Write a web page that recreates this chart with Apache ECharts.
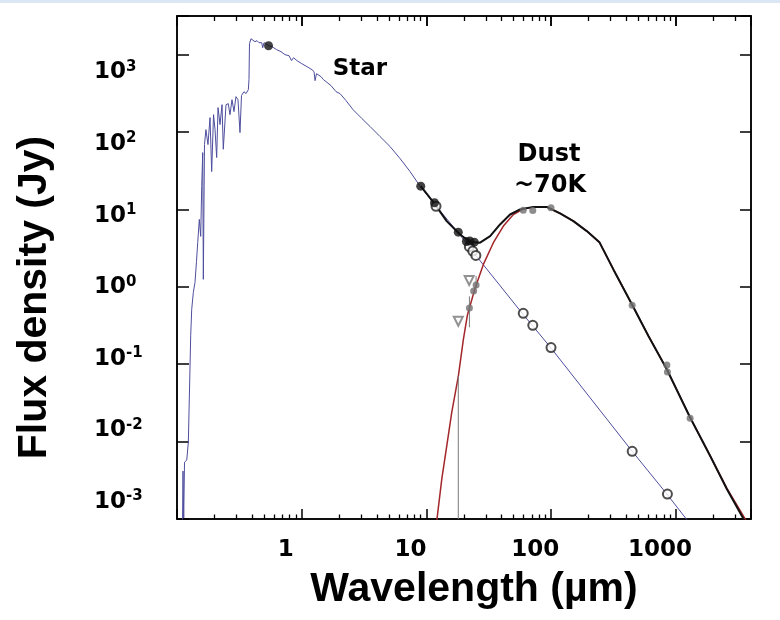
<!DOCTYPE html>
<html>
<head>
<meta charset="utf-8">
<script src="https://cdn.jsdelivr.net/npm/echarts@6/dist/echarts.min.js"></script>
<style>
  html, body { margin: 0; padding: 0; background: #ffffff; }
  #chart { width: 780px; height: 620px; }
  #topband { position: absolute; left: 0; top: 0; width: 780px; height: 3px; background: #dce7f5; z-index: 2; }
</style>
</head>
<body>
<div id="topband"></div>
<div id="chart"></div>
<script>
// Stellar photosphere model spectrum: wavelength (µm) and flux density (Jy)
const starWavelength = [
  0.1107, 0.1117, 0.1132, 0.1149, 0.1197, 0.1233, 0.1288, 0.1312, 0.1352, 0.1394,
  0.1433, 0.1466, 0.1510, 0.1549, 0.1578, 0.1608, 0.1626, 0.1661, 0.1706, 0.1771,
  0.1840, 0.1897, 0.1963, 0.2018, 0.2080, 0.2133, 0.2213, 0.2296, 0.2350, 0.2471,
  0.2577, 0.2660, 0.2760, 0.2863, 0.2971, 0.3083, 0.3199, 0.3289, 0.3443, 0.3574,
  0.3732, 0.3777, 0.3812, 0.3919, 0.4066, 0.4218, 0.4380, 0.4545, 0.4779, 0.4866,
  0.4989, 0.5420, 0.5779, 0.6304, 0.6826, 0.7345, 0.7909, 0.8286, 0.8592, 0.9164,
  1.0, 1.103, 1.209, 1.255, 1.279, 1.314, 1.428, 1.496, 1.566, 1.718,
  1.884, 2.028, 2.266, 2.578, 3.045, 3.530, 4.246, 5.107, 6.143, 7.387,
  8.886, 11.36, 17.92, 24.5, 59.5, 71.6, 100, 445, 835, 1230
];
const starFlux = [
  0.00086, 0.00416, 0.00103, 0.00543, 0.00577, 0.00986, 0.237, 0.513, 0.849, 1.14,
  2.13, 3.75, 7.43, 4.49, 19.8, 54.3, 1.25, 69.0, 107.6, 69.0,
  153.8, 30.9, 168, 107.6, 46.9, 207, 125, 226, 60, 226,
  233, 168, 262, 184, 287, 262, 98.6, 296, 333, 314,
  353, 475, 1387, 1607, 1563, 1472, 1517, 1429, 1429, 1231,
  1429, 1306, 1268, 1161, 1094, 1000, 970, 837, 915, 837,
  766, 700, 640, 604, 462, 569, 520, 475, 449, 398,
  333, 314, 255, 195, 149, 118, 87.5, 65.0, 45.5, 30.9,
  20.0, 12.2, 5.05, 2.63, 0.441, 0.309, 0.161, 0.00753, 0.00216, 0.00097
];

// Cold dust modified blackbody (~70 K)
const dustWavelength = [
  12.1, 13.27, 14.55, 15.95, 18.03, 19.77, 21.28, 24.53, 28.60, 34.40,
  41.38, 49.77, 59.84, 76.64, 92.2, 117.9, 150.7, 193.0, 243.5, 315.3,
  448, 602, 845, 1300, 1880, 2559, 3540, 3650
];
const dustFlux = [
  0.00095, 0.00328, 0.00883, 0.0238, 0.0706, 0.210, 0.429, 0.957, 1.95, 3.72,
  6.10, 8.61, 10.2, 10.8, 10.7, 8.88, 7.06, 5.25, 3.78, 1.68,
  0.577, 0.232, 0.0861, 0.0205, 0.00656, 0.00250, 0.00104, 0.00094
];

// Star + dust total
const totalWavelength = [
  9.0, 11.6, 14.52, 18.6, 22.4, 26.9, 32.4, 38.9, 46.8, 56.3,
  72.0, 92.2, 117.9, 150.7, 193.0, 243.5, 315.3, 448, 602, 845,
  1300, 1880, 2559, 3443, 3550
];
const totalFlux = [
  20.0, 11.9, 7.06, 4.75, 3.79, 3.72, 4.52, 6.40, 8.61, 10.0,
  10.8, 10.8, 8.88, 7.06, 5.25, 3.78, 1.68, 0.577, 0.232, 0.0861,
  0.0205, 0.00656, 0.00244, 0.00104, 0.00092
];

// Photometry
const starPhotometry = [[0.542, 1306], [9.0, 20.0], [11.6, 12.2], [18.0, 5.09], [20.9, 3.85], [22.3, 3.90], [24.2, 3.78]];
const photosphereModel = [[11.93, 11.0], [22.08, 3.30], [23.5, 2.90], [24.9, 2.55], [59.7, 0.455], [71.2, 0.318], [99.7, 0.164], [446, 0.0075], [855, 0.0021]];
const dustPhotometry = [[22.1, 0.532], [23.9, 0.883], [25.0, 1.055], [59.7, 9.8], [71.2, 9.7], [99.7, 10.5], [446, 0.577], [846, 0.098], [855, 0.0796], [1300, 0.0201]];
const upperLimits = [[22.0, 1.21], [18.0, 0.359]];
const errorBars = [[25.0, 0.95, 1.38], [22.1, 0.300, 0.753], [18.0, 0.001, 0.070]];

// Axis ticks and labels
const xTickValues = [1, 10, 100, 1000];
const xTickLabels = ['1', '10', '100', '1000'];
const xMinorTicks = [0.2, 0.3, 0.4, 0.5, 0.6, 0.7, 0.8, 0.9,
  2, 3, 4, 5, 6, 7, 8, 9, 20, 30, 40, 50, 60, 70, 80, 90,
  200, 300, 400, 500, 600, 700, 800, 900, 2000, 3000];
const yTickExponents = ['-3', '-2', '-1', '0', '1', '2', '3'];

const X_MIN = 0.1, X_MAX = 4000;
const Y_MIN = 0.001, Y_MAX = 3162.28;

const zip = (a, b) => a.map((v, i) => [v, b[i]]);
const tickFont = 'DejaVu Sans';
const titleFont = 'Liberation Sans';
const INK = '#000000';

const frameLine = { show: true, onZero: false, lineStyle: { color: INK, width: 1.5 } };
const hiddenLine = { show: true, onZero: false, lineStyle: { color: 'rgba(0,0,0,0)', width: 0 } };
const minorTickValues = xMinorTicks.map(v => Math.log10(v));
const plotRect = { left: 177, right: 29, top: 16, bottom: 101, show: false };

const annotation = (text, x, y, size) => ({
  text, left: x, top: y, padding: 0, textAlign: 'center', textVerticalAlign: 'middle',
  textStyle: { fontFamily: tickFont, fontWeight: 'bold', fontSize: size, color: INK }
});

// Frame with major/minor ticks, laid over the data grid
const majorTicks = (len) => ({ show: true, inside: true, length: len, lineStyle: { color: INK, width: 1.5 } });
const minorTicks = (len) => ({ show: true, inside: true, length: len, customValues: minorTickValues, lineStyle: { color: INK, width: 1.3 } });
const frameX = [
  { gridIndex: 1, type: 'log', logBase: 10, min: X_MIN, max: X_MAX, position: 'bottom', axisLine: frameLine, splitLine: { show: false }, axisLabel: { show: false }, axisTick: majorTicks(10) },
  { gridIndex: 1, type: 'value', min: Math.log10(X_MIN), max: Math.log10(X_MAX), position: 'bottom', axisLine: hiddenLine, splitLine: { show: false }, axisLabel: { show: false }, axisTick: minorTicks(4.5) },
  { gridIndex: 1, type: 'log', logBase: 10, min: X_MIN, max: X_MAX, position: 'top', axisLine: frameLine, splitLine: { show: false }, axisLabel: { show: false }, axisTick: majorTicks(10) },
  { gridIndex: 1, type: 'value', min: Math.log10(X_MIN), max: Math.log10(X_MAX), position: 'top', axisLine: hiddenLine, splitLine: { show: false }, axisLabel: { show: false }, axisTick: minorTicks(5) }
];
const frameY = [
  { gridIndex: 1, type: 'log', logBase: 10, min: Y_MIN, max: Y_MAX, position: 'left', axisLine: frameLine, splitLine: { show: false }, axisLabel: { show: false }, axisTick: majorTicks(12) },
  { gridIndex: 1, type: 'log', logBase: 10, min: Y_MIN, max: Y_MAX, position: 'right', axisLine: frameLine, splitLine: { show: false }, axisLabel: { show: false }, axisTick: majorTicks(11) }
];

const chart = echarts.init(document.getElementById('chart'));

chart.setOption({
  animation: false,
  title: [
    annotation('Star', 360, 69, 23),
    annotation('Dust', 549, 155, 24),
    annotation('~70K', 550, 186, 24)
  ],
  grid: [plotRect, Object.assign({}, plotRect)],
  xAxis: [
    {
      gridIndex: 0, type: 'log', logBase: 10, min: X_MIN, max: X_MAX, position: 'bottom',
      axisLine: frameLine, splitLine: { show: false },
      axisTick: majorTicks(10),
      axisLabel: {
        show: true, margin: 20, padding: [0, 32, 0, 0],
        fontFamily: tickFont, fontWeight: 'bold', fontSize: 23, color: INK, lineHeight: 23,
        formatter: (v) => {
          const i = xTickValues.findIndex(t => Math.abs(Math.log10(t) - Math.log10(v)) < 1e-6);
          return i >= 0 ? xTickLabels[i] : '';
        }
      },
      name: 'Wavelength (µm)', nameLocation: 'middle', nameGap: 50,
      nameTextStyle: { fontFamily: titleFont, fontWeight: 'bold', fontSize: 41, color: INK, padding: [0, 0, 0, 20] }
    },
    {
      gridIndex: 0, type: 'log', logBase: 10, min: X_MIN, max: X_MAX, position: 'top',
      axisLine: frameLine, splitLine: { show: false }, axisLabel: { show: false },
      axisTick: majorTicks(10)
    },
    ...frameX
  ],
  yAxis: [
    {
      gridIndex: 0, type: 'log', logBase: 10, min: Y_MIN, max: Y_MAX, position: 'left',
      axisLine: frameLine, splitLine: { show: false }, axisLabel: { show: false },
      axisTick: majorTicks(12),
      name: 'Flux density (Jy)', nameLocation: 'middle', nameGap: 122, nameRotate: 90,
      nameTextStyle: { fontFamily: titleFont, fontWeight: 'bold', fontSize: 41, color: INK, padding: [0, 60, 0, 0] }
    },
    {
      // decade labels, evenly stacked beside the left frame
      gridIndex: 0, type: 'value', min: -0.237, max: 6.788, position: 'left',
      axisLine: { show: false, onZero: false }, axisTick: { show: false }, splitLine: { show: false },
      axisLabel: {
        show: true, align: 'left', margin: 83,
        customValues: yTickExponents.map((e, i) => i),
        formatter: (v) => '{b|10}{s|' + yTickExponents[Math.round(v)] + '}',
        rich: {
          b: { fontFamily: tickFont, fontWeight: 'bold', fontSize: 23, lineHeight: 26, color: INK },
          s: { fontFamily: tickFont, fontWeight: 'bold', fontSize: 15, lineHeight: 15, verticalAlign: 'top', color: INK }
        }
      }
    },
    {
      gridIndex: 0, type: 'log', logBase: 10, min: Y_MIN, max: Y_MAX, position: 'right',
      axisLine: frameLine, splitLine: { show: false }, axisLabel: { show: false },
      axisTick: majorTicks(11)
    },
    ...frameY
  ],
  series: [
    {
      name: 'Star', type: 'line', xAxisIndex: 0, yAxisIndex: 0, z: 2,
      data: zip(starWavelength, starFlux), showSymbol: false, symbol: 'none',
      lineStyle: { color: '#4e4e9e', width: 1 }
    },
    {
      name: 'Dust', type: 'line', xAxisIndex: 0, yAxisIndex: 0, z: 3,
      data: zip(dustWavelength, dustFlux), showSymbol: false, symbol: 'none',
      lineStyle: { color: '#a3262a', width: 1.5 }
    },
    {
      name: 'Total', type: 'line', xAxisIndex: 0, yAxisIndex: 0, z: 4,
      data: zip(totalWavelength, totalFlux), showSymbol: false, symbol: 'none',
      lineStyle: { color: '#111111', width: 2 }
    },
    ...errorBars.map(([x, lo, hi]) => ({
      name: 'Error bar', type: 'line', xAxisIndex: 0, yAxisIndex: 0, z: 5,
      data: [[x, lo], [x, hi]], showSymbol: false, symbol: 'none',
      lineStyle: { color: '#7a7a7a', width: 1 }
    })),
    {
      name: 'Upper limits', type: 'scatter', xAxisIndex: 0, yAxisIndex: 0, z: 6,
      data: upperLimits, symbol: 'emptyTriangle', symbolRotate: 180, symbolSize: 9,
      itemStyle: { color: '#777777', borderColor: '#777777', borderWidth: 1.2 }
    },
    {
      name: 'Photosphere model', type: 'scatter', xAxisIndex: 0, yAxisIndex: 0, z: 7,
      data: photosphereModel, symbol: 'emptyCircle', symbolSize: 9,
      itemStyle: { color: '#222222', borderColor: '#222222', borderWidth: 1 }
    },
    {
      name: 'Dust photometry', type: 'scatter', xAxisIndex: 0, yAxisIndex: 0, z: 8,
      data: dustPhotometry, symbol: 'circle', symbolSize: 7,
      itemStyle: { color: '#707070' }
    },
    {
      name: 'Star photometry', type: 'scatter', xAxisIndex: 0, yAxisIndex: 0, z: 9,
      data: starPhotometry, symbol: 'circle', symbolSize: 9,
      itemStyle: { color: '#111111' }
    }
  ]
});
</script>
</body>
</html>
